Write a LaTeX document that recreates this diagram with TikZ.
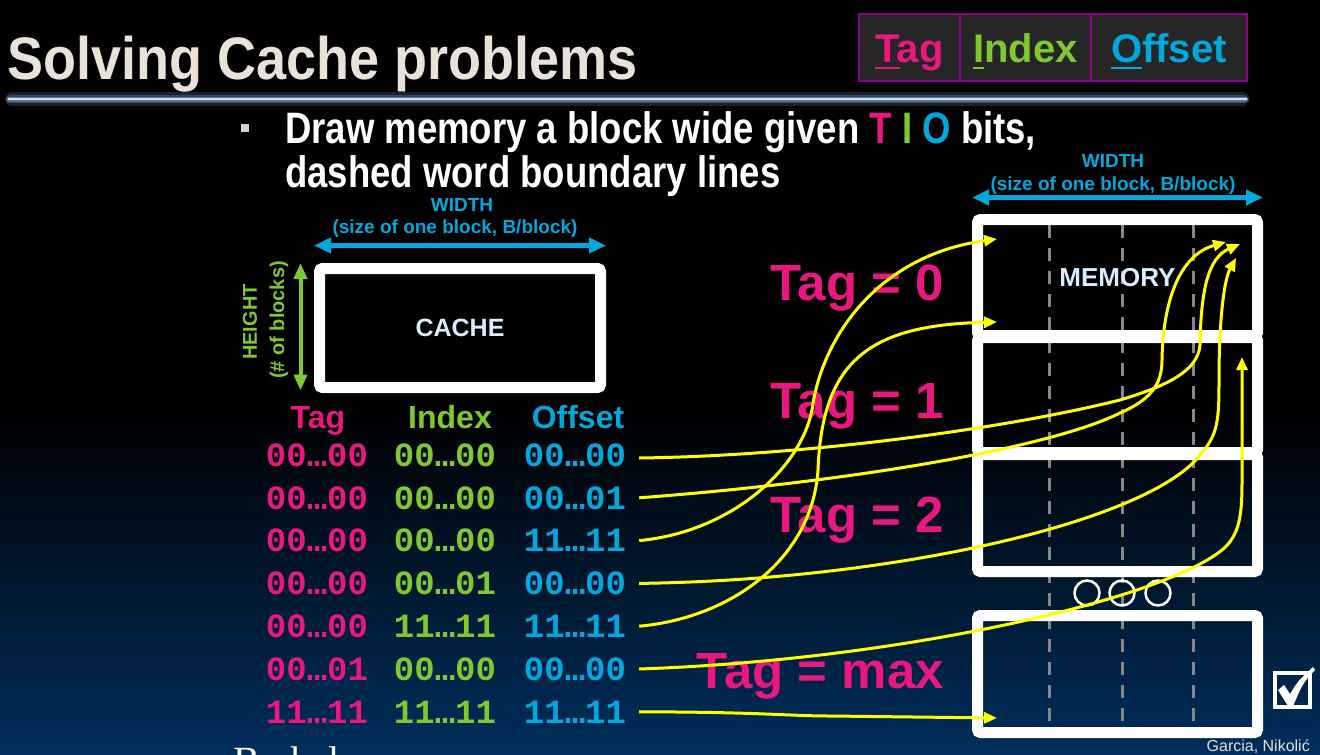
\documentclass[tikz,border=0pt]{standalone}
\usepackage{fontspec}
\setmainfont{Liberation Sans}
\newfontfamily\titlefont{Liberation Sans}[FakeStretch=0.9]
\newfontfamily\narrowsans{Liberation Sans}[FakeStretch=0.83]
\newfontfamily\addrfont{Liberation Mono}
\newfontfamily\footserif{Liberation Serif}
\usetikzlibrary{arrows.meta}

\definecolor{tagpink}{RGB}{233,24,127}
\definecolor{idxgreen}{RGB}{128,200,50}
\definecolor{offblue}{RGB}{0,168,222}
\definecolor{navy}{RGB}{0,46,92}
\definecolor{titlewhite}{RGB}{232,226,216}
\definecolor{boxpurple}{RGB}{140,0,140}
\definecolor{boxgray}{RGB}{38,38,38}
\definecolor{labelwhite}{RGB}{218,236,255}
\definecolor{wordgray}{RGB}{135,135,135}
\definecolor{arrowyellow}{RGB}{255,255,0}
\definecolor{bulletgray}{RGB}{215,210,200}
\definecolor{footgray}{RGB}{225,225,225}
\definecolor{glowA}{RGB}{26,33,46}
\definecolor{glowB}{RGB}{55,68,92}
\definecolor{glowC}{RGB}{95,115,145}
\definecolor{glowcore}{RGB}{205,225,245}

\newcommand\setfs[1]{\fontsize{#1pt}{#1pt}\selectfont}
\newcommand\ulfirst[1]{\setbox0\hbox{#1}\rlap{\rule[-7pt]{\wd0}{2.2pt}}#1}

\begin{document}
\begin{tikzpicture}[x=1pt,y=-1pt,
  yarrow/.style={draw=arrowyellow,line width=3pt,-{Triangle[length=13pt,width=11pt]}},
  dimarrow/.style={line width=4.5pt,{Triangle[length=17pt,width=15pt]}-{Triangle[length=17pt,width=15pt]}},
  heightarrow/.style={line width=4pt,{Triangle[length=16pt,width=13pt]}-{Triangle[length=16pt,width=13pt]}},
  whitebox/.style={draw=white,line width=11pt,rounded corners=3pt,inner sep=0pt},
  wordline/.style={draw=wordgray,line width=3pt,dash pattern=on 13pt off 10pt},
  tiobox/.style={draw=boxpurple,fill=boxgray,line width=2.5pt,minimum height=67pt,inner sep=0pt,
                 text height=38pt,text depth=9pt,font=\bfseries\setfs{40}},
  dimlabel/.style={text=offblue,font=\bfseries\setfs{19},inner sep=0pt},
  addr/.style={font=\addrfont\bfseries\setfs{34},inner sep=0pt},
  taglabel/.style={anchor=base east,inner sep=0pt,text=tagpink,font=\bfseries\setfs{51}},
  colhead/.style={anchor=base,inner sep=0pt,font=\bfseries\setfs{32}},
  boxlabel/.style={text=labelwhite,font=\bfseries\setfs{25}}]

\useasboundingbox (0,0) rectangle (1320,755);
\clip (0,0) rectangle (1320,755);

% background: black fading into navy towards the bottom
\fill[black] (0,0) rectangle (1320,755);
\shade[top color=black,bottom color=navy] (0,410) rectangle (1320,755);

% title and glowing rule
\node[anchor=base west,inner sep=0pt,text=titlewhite,font=\titlefont\bfseries\setfs{60}] (title) at (7,79) {Solving Cache problems};
\draw[glowA,line width=14pt,line cap=round] (12,99) -- (1242,99);
\draw[glowB,line width=8pt,line cap=round] (10,99) -- (1244,99);
\draw[glowC,line width=5pt,line cap=round] (9,99) -- (1246,99);
\draw[glowcore,line width=2.5pt] (8,99) -- (1247,99);

% Tag / Index / Offset legend
\node[tiobox,minimum width=101pt] (legT) at (909.5,47.5) {\textcolor{tagpink}{\ulfirst{T}ag}};
\node[tiobox,minimum width=131pt] (legI) at (1025.5,47.5) {\textcolor{idxgreen}{\ulfirst{I}ndex}};
\node[tiobox,minimum width=156pt] (legO) at (1169,47.5) {\textcolor{offblue}{\ulfirst{O}ffset}};

% bullet text
\fill[bulletgray] (241,124) rectangle (249,132);
\node[anchor=base west,inner sep=0pt,text=white,font=\narrowsans\bfseries\setfs{44}] (line1) at (285,143)
  {Draw memory a block wide given \textcolor{tagpink}{T} \textcolor{idxgreen}{I} \textcolor{offblue}{O} bits,};
\node[anchor=base west,inner sep=0pt,text=white,font=\narrowsans\bfseries\setfs{44}] (line2) at (285,187)
  {dashed word boundary lines};

% cache
\node[whitebox,boxlabel,minimum width=281pt,minimum height=119pt] (cache) at (460,328) {CACHE};
\draw[dimarrow,offblue] ([yshift=17.5pt]cache.north west) -- ([yshift=17.5pt]cache.north east);
\node[dimlabel] (cw1) at (462,205) {WIDTH};
\node[dimlabel] (cw2) at (455,229) {(size of one block, B/block)};
\draw[heightarrow,idxgreen] ([xshift=-13.5pt]cache.north west) -- ([xshift=-13.5pt,yshift=2.5pt]cache.south west);
\node[rotate=90,inner sep=0pt,text=idxgreen,font=\bfseries\setfs{20}] (ch1) at (250,322) {HEIGHT};
\node[rotate=90,inner sep=0pt,text=idxgreen,font=\bfseries\setfs{20}] (ch2) at (279,320) {(\# of blocks)};

% address columns
\node[colhead,text=tagpink] (htag) at (318,428) {Tag};
\node[colhead,text=idxgreen] (hidx) at (450,428) {Index};
\node[colhead,text=offblue] (hoff) at (578,428) {Offset};
\foreach \tg/\ix/\of [count=\k] in {00…00/00…00/00…00, 00…00/00…00/00…01, 00…00/00…00/11…11,
    00…00/00…01/00…00, 00…00/11…11/11…11, 00…01/00…00/00…00, 11…11/11…11/11…11} {
  \node[addr,text=tagpink] (t\k) at (317,{455+42.8*(\k-1)}) {\tg};
  \node[addr,text=idxgreen] (i\k) at (445,{455+42.8*(\k-1)}) {\ix};
  \node[addr,text=offblue] (o\k) at (575,{455+42.8*(\k-1)}) {\of};
}

% memory: word boundaries, blocks and continuation marks
\foreach \dx in {1049,1122,1193} \draw[wordline] (\dx,225) -- (\dx,727);
\node[whitebox,boxlabel,font=\bfseries\setfs{26},minimum width=280pt,minimum height=116pt] (mem0) at (1117.5,277.5) {MEMORY};
\node[whitebox,minimum width=280pt,minimum height=115pt] (mem1) at (1117.5,395) {};
\node[whitebox,minimum width=280pt,minimum height=117pt] (mem2) at (1117.5,513) {};
\node[whitebox,minimum width=280pt,minimum height=117pt] (memx) at (1117.5,674) {};
\foreach \cx in {1087,1122,1158} \draw[white,line width=2.5pt] (\cx,593) circle[radius=12.5];
\draw[dimarrow,offblue] ([yshift=16.5pt]mem0.north west) -- ([yshift=16.5pt]mem0.north east);
\node[dimlabel] (mw1) at (1113,161) {WIDTH};
\node[dimlabel] (mw2) at (1113,186) {(size of one block, B/block)};

% tag labels
\node[taglabel] (tg0) at (944,300) {Tag = 0};
\node[taglabel] (tg1) at (944,418) {Tag = 1};
\node[taglabel] (tg2) at (944,532) {Tag = 2};
\node[taglabel] (tgx) at (944,688) {Tag = max};

% where each address lands in memory
\coordinate (m0a) at (997,239);
\coordinate (m0b) at (997,322);
\coordinate (m0c) at (1226,242);
\coordinate (m0d) at (1240,244);
\coordinate (m0e) at (1236,258);
\coordinate (m1r) at (1242,357);
\coordinate (mxa) at (997,718);

\draw[yarrow] ([xshift=13pt,yshift=-3pt]o1.east) .. controls (800,456) and (1000,430) .. (1120,400)
  .. controls (1170,385) and (1198,370) .. (1200,345) .. controls (1201,290) and (1208,258) .. (m0d);
\draw[yarrow] ([xshift=13pt]o2.east) .. controls (850,482) and (1050,448) .. (1120,413)
  .. controls (1150,400) and (1162,385) .. (1162,360) .. controls (1163,300) and (1180,255) .. (m0c);
\draw[yarrow] ([xshift=13pt]o3.east) .. controls (730,532) and (800,470) .. (812,410)
  .. controls (822,335) and (880,255) .. (m0a);
\draw[yarrow] ([xshift=13pt]o4.east) .. controls (900,580) and (1150,520) .. (1200,455)
  .. controls (1218,435) and (1219,420) .. (1219,380) .. controls (1219,320) and (1224,280) .. (m0e);
\draw[yarrow] ([xshift=13pt]o5.east) .. controls (730,618) and (812,560) .. (818,470)
  .. controls (822,360) and (870,325) .. (m0b);
\draw[yarrow] ([xshift=13pt]o6.east) .. controls (900,660) and (1160,600) .. (1222,550)
  .. controls (1240,535) and (1242,515) .. (1242,480) -- (m1r);
\draw[yarrow] ([xshift=13pt]o7.east) .. controls (760,712) and (790,716) .. (830,716) -- (mxa);

% check box
\draw[white,line width=3.5pt] (1275,673) rectangle (1310,707);
\fill[white] (1278,690) -- (1284,685) -- (1290,694) .. controls (1298,681) .. (1313,667)
  -- (1315,670) .. controls (1303,683) .. (1293,706) -- (1288,706) -- cycle;

% footer
\node[anchor=base east,inner sep=0pt,text=footgray,font=\setfs{16}] (credit) at (1310,751) {Garcia, Nikolić};
\node[anchor=base west,inner sep=0pt,text=white,font=\footserif\setfs{40}] (logo) at (233,774) {Berkeley};
\end{tikzpicture}
\end{document}
